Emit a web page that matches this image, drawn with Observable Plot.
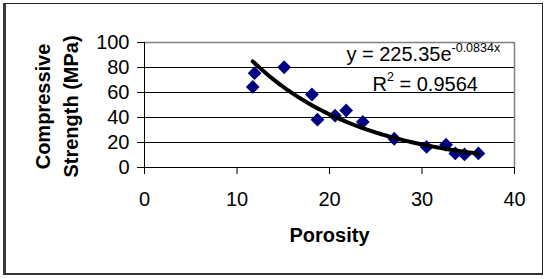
<!DOCTYPE html>
<html>
<head>
<meta charset="utf-8">
<script src="https://cdn.jsdelivr.net/npm/d3@7"></script>
<script src="https://cdn.jsdelivr.net/npm/@observablehq/plot@0.6"></script>
<style>
  html, body { margin: 0; padding: 0; background: #fff; }
  #wrap { position: relative; width: 545px; height: 279px; }
  #border { position: absolute; left: 3px; top: 3px; width: 536px; height: 269px;
            border-top: 1px solid #222; border-right: 1px solid #222;
            border-bottom: 2px solid #333; border-left: 3px solid #3a3a3a; pointer-events: none; }
</style>
</head>
<body>
<div id="wrap"><div id="border"></div></div>
<script>
// Data
const porosity = [11.7, 11.9, 15.1, 18.1, 18.7, 20.6, 21.8, 23.6, 27.0, 30.5, 32.6, 33.6, 34.6, 36.1];
const strength = [64.5, 75.5, 80.2, 58.4, 38.3, 41.5, 45.6, 36.5, 23.0, 16.5, 18.2, 11.3, 10.5, 11.3];
const xTicks = [0, 10, 20, 30, 40];
const yTicks = [0, 20, 40, 60, 80, 100];
const gridValues = [20, 40, 60, 80];
const trendA = 225.35;
const trendB = -0.0834;
const r2 = 0.9564;
const xTitle = "Porosity";
const yTitle = ["Compressive", "Strength (MPa)"];

const points = porosity.map((p, i) => ({x: p, y: strength[i]}));
const [xmin, xmax] = d3.extent(porosity);
const trend = d3.range(0, 101).map(k => {
  const x = xmin + (xmax - xmin) * k / 100;
  return {x, y: trendA * Math.exp(trendB * x)};
});

const font = "'Liberation Sans', Arial, Helvetica, sans-serif";

const plot = Plot.plot({
  width: 545,
  height: 279,
  marginLeft: 144,
  marginRight: 31,
  marginTop: 42,
  marginBottom: 112,
  style: {fontFamily: font, fontSize: "20px", background: "transparent", color: "#000", overflow: "visible"},
  x: {domain: [0, 40], ticks: xTicks, tickSize: 7, tickPadding: 17, label: null},
  y: {domain: [0, 100], ticks: yTicks, tickSize: 7, tickPadding: 8, label: null},
  marks: [
    Plot.ruleY(gridValues, {stroke: "#000", strokeWidth: 1}),
    Plot.ruleY([100], {stroke: "#808080", strokeWidth: 1.5}),
    Plot.ruleX([40], {stroke: "#808080", strokeWidth: 1.5}),
    Plot.ruleY([0], {stroke: "#000", strokeWidth: 1}),
    Plot.ruleX([0], {stroke: "#000", strokeWidth: 1}),
    Plot.dot(points, {x: "x", y: "y", symbol: "diamond2", r: 6.2, fill: "#000080", stroke: "none"}),
    Plot.line(trend, {x: "x", y: "y", stroke: "#000", strokeWidth: 4, curve: "linear"}),
    Plot.text([`y = ${trendA}e`], {x: 21.83, y: 90.7, text: d => d, textAnchor: "start", fontSize: 20, fill: "#000"}),
    Plot.text([`R`], {x: 24.65, y: 66.7, text: d => d, textAnchor: "start", fontSize: 20, fill: "#000"}),
    Plot.text([xTitle], {x: 20, y: -54.1, text: d => d, fontSize: 20, fontWeight: "bold", fill: "#000"}),
    Plot.text([yTitle[0]], {x: -10.9, y: 48.8, text: d => d, rotate: -90, fontSize: 20, fontWeight: "bold", fill: "#000"}),
    Plot.text([yTitle[1]], {x: -7.92, y: 48.8, text: d => d, rotate: -90, fontSize: 20, fontWeight: "bold", fill: "#000"})
  ]
});

// superscripts as tspans inside the Plot-made text elements
d3.select(plot).selectAll("text").each(function() {
  const t = this.textContent;
  if (t === `y = ${trendA}e`) {
    d3.select(this).append("tspan").attr("dy", -8.5).attr("font-size", 12.5).text(`${trendB}x`);
  } else if (t === "R") {
    d3.select(this).append("tspan").attr("dy", -9.5).attr("font-size", 12.5).text("2");
    d3.select(this).append("tspan").attr("dy", 9.5).attr("font-size", 20).text(` = ${r2}`);
  }
});

document.getElementById("wrap").prepend(plot);
</script>
</body>
</html>
